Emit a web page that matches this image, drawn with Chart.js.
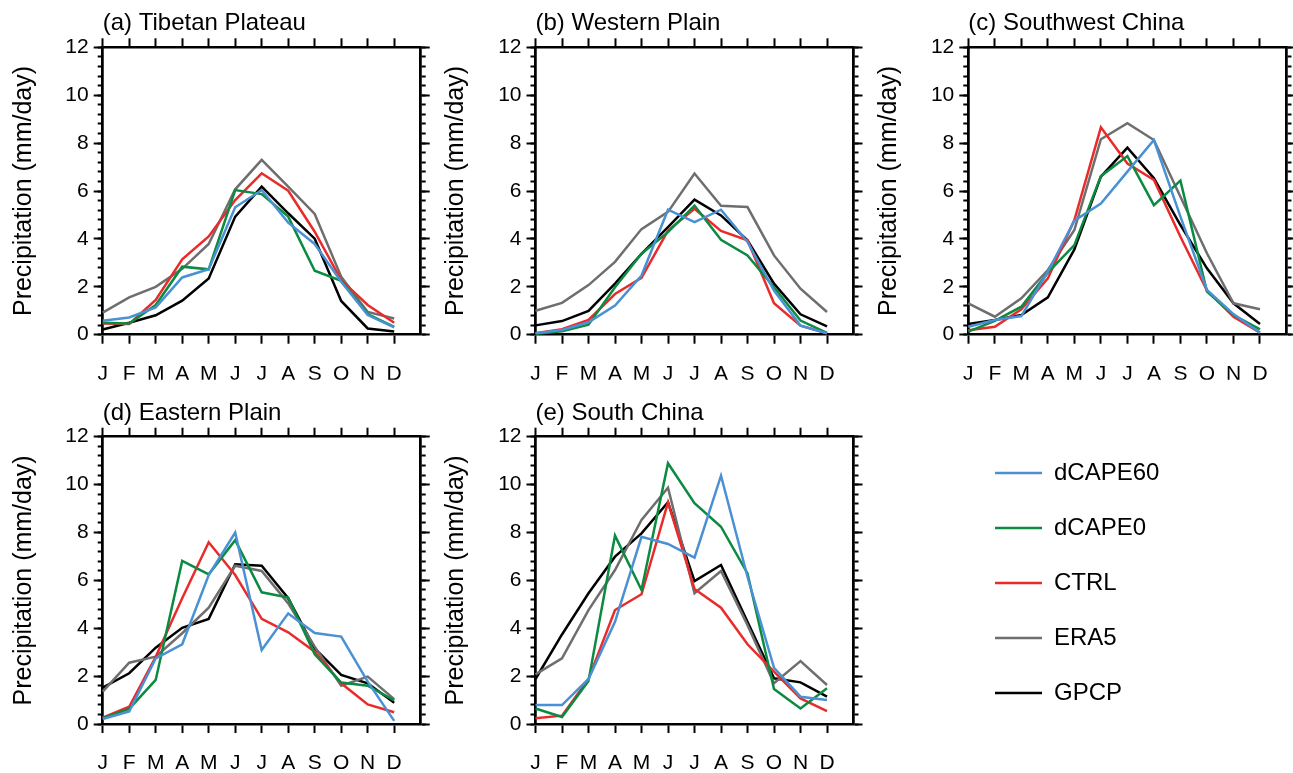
<!DOCTYPE html>
<html><head><meta charset="utf-8">
<script src="https://cdn.jsdelivr.net/npm/chart.js@4"></script>
<style>
html,body{margin:0;padding:0;background:#fff;}
#wrap{position:relative;width:1293px;height:773px;overflow:hidden;background:#fff;}
#wrap canvas{position:absolute;}
</style></head><body><div id="wrap"></div>
<script>
// ---------- data ----------
const MONTHS = ['J','F','M','A','M','J','J','A','S','O','N','D'];
const SERIES_NAMES = ['dCAPE60','dCAPE0','CTRL','ERA5','GPCP'];
const SERIES_COLORS = ['#4a91d3','#0b8a42','#ea2b2b','#6e6e6e','#000000'];
const Y_AXIS_TITLE = 'Precipitation (mm/day)';
const Y_MIN = 0, Y_MAX = 12, Y_MAJOR_STEP = 2, Y_MINOR_STEP = 0.4;
const PANEL_TITLES = ['(a) Tibetan Plateau','(b) Western Plain','(c) Southwest China','(d) Eastern Plain','(e) South China'];

// (a) Tibetan Plateau
const TP_DCAPE60 = [0.58,0.72,1.14,2.39,2.73,5.32,6.04,4.68,3.79,2.21,0.82,0.31];
const TP_DCAPE0  = [0.50,0.47,1.24,2.84,2.73,6.04,5.87,4.93,2.67,2.25,0.86,0.33];
const TP_CTRL    = [0.47,0.45,1.45,3.15,4.10,5.62,6.74,6.01,4.30,2.28,1.24,0.50];
const TP_ERA5    = [0.92,1.56,2.00,2.75,3.79,6.07,7.30,6.18,5.04,2.42,0.95,0.68];
const TP_GPCP    = [0.22,0.50,0.81,1.42,2.35,4.93,6.18,5.07,4.01,1.41,0.26,0.13];
// (b) Western Plain
const WP_DCAPE60 = [0.06,0.20,0.52,1.22,2.47,5.22,4.70,5.22,3.87,1.84,0.38,0.06];
const WP_DCAPE0  = [0.03,0.14,0.42,1.98,3.38,4.28,5.39,3.96,3.31,1.98,0.59,0.08];
const WP_CTRL    = [0.06,0.23,0.62,1.70,2.37,4.35,5.26,4.33,3.94,1.31,0.38,0.06];
const WP_ERA5    = [1.00,1.33,2.07,3.04,4.41,5.13,6.73,5.38,5.33,3.31,1.92,0.95];
const WP_GPCP    = [0.39,0.57,0.99,2.13,3.38,4.49,5.64,4.98,3.94,2.13,0.85,0.35];
// (c) Southwest China
const SW_DCAPE60 = [0.33,0.61,0.78,2.63,4.76,5.48,6.81,8.13,4.93,1.87,0.86,0.08];
const SW_DCAPE0  = [0.13,0.58,1.17,2.59,3.74,6.62,7.46,5.41,6.43,1.80,0.82,0.22];
const SW_CTRL    = [0.19,0.33,1.06,2.35,4.79,8.66,7.15,6.46,4.09,1.84,0.75,0.08];
const SW_ERA5    = [1.31,0.75,1.52,2.70,4.37,8.16,8.83,8.13,5.76,3.40,1.31,1.06];
const SW_GPCP    = [0.45,0.61,0.82,1.56,3.56,6.60,7.81,6.53,4.58,2.77,1.31,0.45];
// (d) Eastern Plain
const EP_DCAPE60 = [0.21,0.52,2.74,3.33,6.22,8.00,3.09,4.62,3.80,3.65,1.77,0.13];
const EP_DCAPE0  = [0.24,0.63,1.84,6.81,6.25,7.68,5.50,5.28,2.91,1.73,1.60,0.99];
const EP_CTRL    = [0.26,0.72,2.81,5.25,7.59,6.22,4.39,3.83,3.02,1.70,0.82,0.49];
const EP_ERA5    = [1.35,2.56,2.81,3.79,4.86,6.61,6.39,5.04,3.23,1.60,1.98,1.04];
const EP_GPCP    = [1.52,2.12,3.19,4.02,4.39,6.67,6.61,5.25,3.16,2.05,1.70,0.89];
// (e) South China
const SC_DCAPE60 = [0.79,0.79,1.88,4.27,7.82,7.52,6.95,10.37,6.15,2.35,1.14,1.00];
const SC_DCAPE0  = [0.65,0.29,1.80,7.87,5.60,10.89,9.22,8.24,6.29,1.46,0.65,1.49];
const SC_CTRL    = [0.24,0.35,1.88,4.76,5.42,9.26,5.64,4.86,3.33,2.19,1.07,0.54];
const SC_ERA5    = [2.07,2.74,4.76,6.43,8.52,9.87,5.46,6.39,4.13,1.70,2.63,1.63];
const SC_GPCP    = [1.88,3.74,5.46,6.99,7.96,9.26,5.97,6.64,4.27,1.91,1.74,1.14];

const REGION_SERIES = [
  [TP_DCAPE60, TP_DCAPE0, TP_CTRL, TP_ERA5, TP_GPCP],
  [WP_DCAPE60, WP_DCAPE0, WP_CTRL, WP_ERA5, WP_GPCP],
  [SW_DCAPE60, SW_DCAPE0, SW_CTRL, SW_ERA5, SW_GPCP],
  [EP_DCAPE60, EP_DCAPE0, EP_CTRL, EP_ERA5, EP_GPCP],
  [SC_DCAPE60, SC_DCAPE0, SC_CTRL, SC_ERA5, SC_GPCP]
];

// ---------- layout (plot-box edges in page pixels) ----------
const PAGE_W = 1293, PAGE_H = 773;
const BOXES = [
  {l:102.7, r:420.7, t:47.3,  b:334.7},
  {l:535.5, r:853.5, t:47.3,  b:334.7},
  {l:968.3, r:1286.5,t:47.3,  b:334.7},
  {l:102.7, r:420.7, t:436.7, b:724.0},
  {l:535.5, r:853.5, t:436.7, b:724.0}
];
const FONT = '"Liberation Sans", Arial, Helvetica, sans-serif';
Chart.defaults.font.family = FONT;
const AXIS_W = 2.5, TICK_W = 2;
const W_L = 94, W_R = 10, H_T = 45, H_B = 45;
const MAJOR_LEN = 9, MINOR_LEN = 5;

const wrap = document.getElementById('wrap');

function gridOpts(len){
  return {display:true, drawOnChartArea:false, drawTicks:true, tickLength:len, tickWidth:TICK_W, tickColor:'#000'};
}
const borderOpts = {display:true, color:'#000', width:AXIS_W};
const keepMonths = s => { s.ticks = s.ticks.slice(0, MONTHS.length); };

function makePanel(idx){
  const box = BOXES[idx];
  const cv = document.createElement('canvas');
  cv.width = PAGE_W; cv.height = PAGE_H;
  cv.style.left = '0px'; cv.style.top = '0px';
  wrap.appendChild(cv);
  const pad = {left: box.l - W_L, right: PAGE_W - box.r - W_R, top: box.t - H_T, bottom: PAGE_H - box.b - H_B};
  const datasets = SERIES_NAMES.map((name, i) => ({
    label: name, data: REGION_SERIES[idx][i],
    borderColor: SERIES_COLORS[i], backgroundColor: SERIES_COLORS[i],
    borderWidth: 2.5, pointRadius: 0, tension: 0, fill: false,
    xAxisID: 'x', yAxisID: 'y'
  }));
  new Chart(cv, {
    type: 'line',
    data: {labels: [...MONTHS, ''], datasets},
    options: {
      responsive: false, animation: false, events: [], devicePixelRatio: 1,
      layout: {padding: pad},
      plugins: {legend: {display: false}, tooltip: {enabled: false}, title: {display: false}},
      scales: {
        x: {type:'category', position:'bottom', offset:false, grid:gridOpts(MAJOR_LEN), border:borderOpts,
            ticks:{autoSkip:false, maxRotation:0, minRotation:0, padding:18, color:'#000', font:{family:FONT, size:21}},
            afterBuildTicks: keepMonths, afterFit: s => { s.height = H_B; }},
        xTop: {type:'category', position:'top', offset:false, grid:gridOpts(MAJOR_LEN), border:borderOpts,
            ticks:{display:false},
            title:{display:true, text:PANEL_TITLES[idx], align:'start', color:'#000', font:{family:FONT, size:24}, padding:{top:7, bottom:0}},
            afterBuildTicks: keepMonths, afterFit: s => { s.height = H_T; }},
        y: {type:'linear', position:'left', weight:1, min:Y_MIN, max:Y_MAX, grid:gridOpts(MAJOR_LEN), border:borderOpts,
            ticks:{stepSize:Y_MAJOR_STEP, padding:5, color:'#000', font:{family:FONT, size:21}},
            title:{display:true, text:Y_AXIS_TITLE, color:'#000', font:{family:FONT, size:25}, padding:{top:0, bottom:0}},
            afterFit: s => { s.width = W_L; }},
        yMinor: {type:'linear', position:'left', weight:0, min:Y_MIN, max:Y_MAX, grid:gridOpts(MINOR_LEN), border:borderOpts,
            ticks:{display:false, stepSize:Y_MINOR_STEP},
            afterFit: s => { s.width = 0; }},
        yRMinor: {type:'linear', position:'right', weight:0, min:Y_MIN, max:Y_MAX, grid:gridOpts(MINOR_LEN), border:borderOpts,
            ticks:{display:false, stepSize:Y_MINOR_STEP},
            afterFit: s => { s.width = 0; }},
        yR: {type:'linear', position:'right', weight:1, min:Y_MIN, max:Y_MAX, grid:gridOpts(MAJOR_LEN), border:borderOpts,
            ticks:{display:false, stepSize:Y_MAJOR_STEP},
            afterFit: s => { s.width = W_R; }}
      }
    }
  });
}

for (let i = 0; i < BOXES.length; i++) makePanel(i);

// ---------- legend ----------
(function(){
  const cv = document.createElement('canvas');
  cv.width = 326; cv.height = 760;
  cv.style.left = '964px'; cv.style.top = '430px';
  wrap.appendChild(cv);
  new Chart(cv, {
    type: 'line',
    data: {labels: [], datasets: SERIES_NAMES.map((name, i) => ({
      label: name, data: [], borderColor: SERIES_COLORS[i], backgroundColor: SERIES_COLORS[i], borderWidth: 2.5
    }))},
    options: {
      responsive: false, animation: false, events: [], devicePixelRatio: 1,
      layout: {padding: 0},
      scales: {x: {display: false}, y: {display: false}},
      plugins: {
        tooltip: {enabled: false},
        legend: {display: true, position: 'top', align: 'start',
          labels: {usePointStyle: true, pointStyle: 'line', pointStyleWidth: 47, padding: 31,
                   color: '#000', font: {family: FONT, size: 24}}}
      }
    }
  });
})();
</script>
</body></html>
